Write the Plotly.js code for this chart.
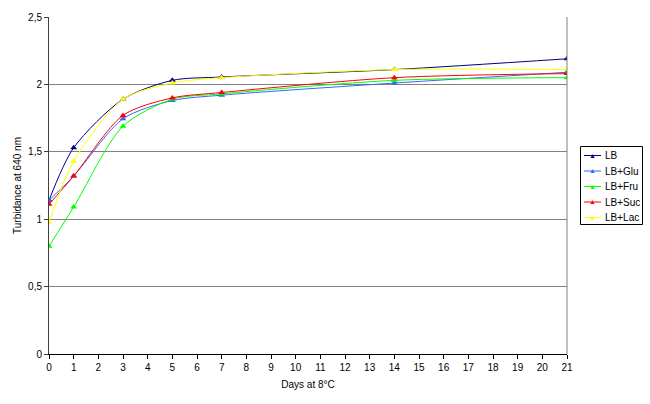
<!DOCTYPE html>
<html>
<head>
<meta charset="utf-8">
<script src="https://cdn.plot.ly/plotly-3.0.1.min.js"></script>
<style>html,body{margin:0;padding:0;background:#fff;}#chart{width:650px;height:404px;}</style>
</head>
<body>
<div id="chart"></div>
<script>
const days = [0, 1, 3, 5, 7, 14, 21];
const seriesNames = ["LB", "LB+Glu", "LB+Fru", "LB+Suc", "LB+Lac"];
const lb    = [1.14, 1.53, 1.89, 2.03, 2.055, 2.11, 2.19];
const lbGlu = [1.14, 1.32, 1.745, 1.88, 1.92, 2.01, 2.09];
const lbFru = [0.80, 1.09, 1.69, 1.89, 1.93, 2.03, 2.05];
const lbSuc = [1.11, 1.32, 1.77, 1.90, 1.94, 2.05, 2.08];
const lbLac = [0.98, 1.43, 1.89, 2.01, 2.05, 2.11, 2.11];
const xTicks = [0,1,2,3,4,5,6,7,8,9,10,11,12,13,14,15,16,17,18,19,20,21];

const values = [lb, lbGlu, lbFru, lbSuc, lbLac];
const colors = ["#000080", "#3366FF", "#00FF00", "#FF0000", "#FFFF00"];

const traces = seriesNames.map((n, i) => ({
  x: days, y: values[i], name: n, type: "scatter", mode: "lines+markers",
  line: {color: colors[i], width: 1, shape: "spline", smoothing: 0.8},
  marker: {symbol: "triangle-up", size: 6, color: colors[i]}
}));

// Plot area geometry (pixels) for a compact, Excel-like legend box
const M = {l: 49, r: 83, t: 17, b: 50};
const PW = 650 - M.l - M.r, PH = 404 - M.t - M.b;
const px = v => (v - M.l) / PW;
const py = v => (404 - M.b - v) / PH;

const shapes = [
  {type: "line", xref: "paper", yref: "paper", x0: 1, x1: 1, y0: 0, y1: 1,
   line: {color: "#808080", width: 1}},
  {type: "rect", xref: "paper", yref: "paper", x0: px(580.5), x1: px(642.5), y0: py(146.5), y1: py(224.5),
   line: {color: "#000", width: 1}, fillcolor: "#fff"}
];
const annotations = [];
seriesNames.forEach((n, i) => {
  const yc = 155.5 + i * 15.5;
  shapes.push({type: "line", xref: "paper", yref: "paper", x0: px(584), x1: px(601), y0: py(yc), y1: py(yc),
               line: {color: colors[i], width: 1}});
  annotations.push({xref: "paper", yref: "paper", x: px(592.5), y: py(yc - 0.5), text: "▲", showarrow: false,
                    xanchor: "center", yanchor: "middle", font: {size: 7, color: colors[i]}});
  annotations.push({xref: "paper", yref: "paper", x: px(603), y: py(yc), text: n, showarrow: false,
                    xanchor: "left", yanchor: "middle", font: {size: 10, color: "#000"}});
});

const layout = {
  width: 650, height: 404,
  margin: Object.assign({autoexpand: false}, M),
  paper_bgcolor: "#fff", plot_bgcolor: "#fff",
  separators: ", ",
  font: {family: "Liberation Sans, Arial, sans-serif", size: 10, color: "#000"},
  showlegend: false,
  xaxis: {range: [0, 21], tickvals: xTicks, ticktext: xTicks.map(String),
          showgrid: false, zeroline: false, showline: true, linecolor: "#000", linewidth: 1,
          ticks: "outside", ticklen: 4, tickcolor: "#000",
          title: {text: "Days at 8°C", font: {size: 10}, standoff: 8}},
  yaxis: {range: [0, 2.5], dtick: 0.5, tick0: 0, showgrid: true, gridcolor: "#808080", gridwidth: 1,
          zeroline: false, showline: true, linecolor: "#404040", linewidth: 1,
          ticks: "outside", ticklen: 4, tickcolor: "#404040",
          title: {text: "Turbidance at 640 nm", font: {size: 10}, standoff: 4}},
  shapes: shapes,
  annotations: annotations
};

Plotly.newPlot("chart", traces, layout, {displayModeBar: false, staticPlot: true});
</script>
</body>
</html>
